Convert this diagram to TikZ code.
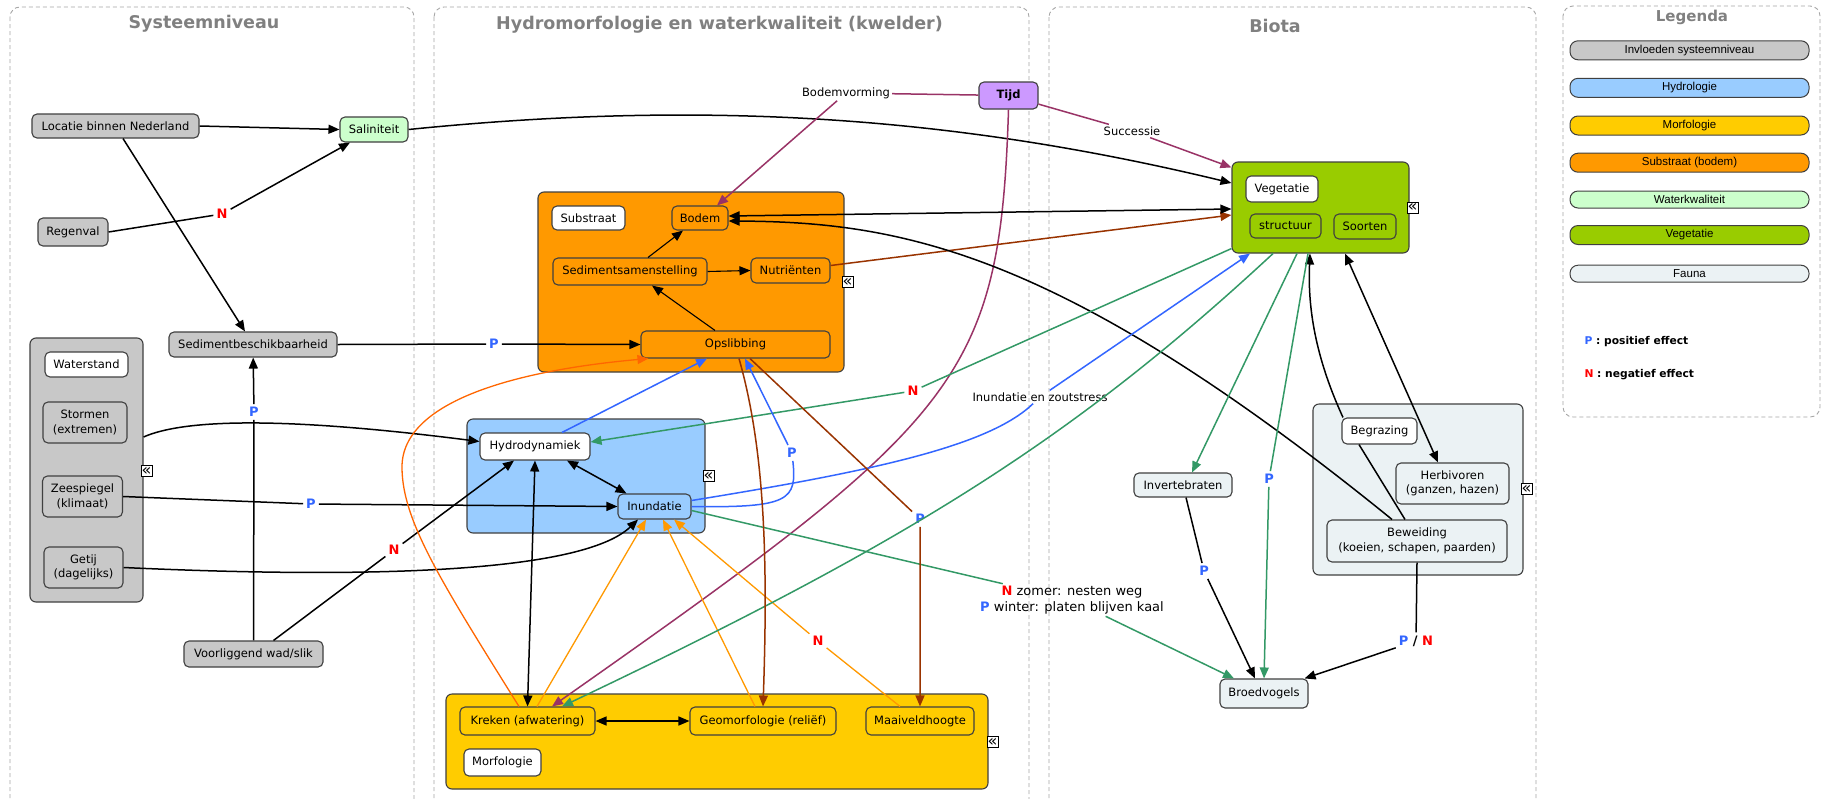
\documentclass[tikz,border=0pt]{standalone}
\usepackage{fontspec}
\setmainfont{DejaVu Sans}
\newfontfamily\arialf{Liberation Sans}
\usetikzlibrary{arrows.meta}
\definecolor{sysgray}{HTML}{C8C8C8}
\definecolor{hydroblue}{HTML}{99CCFF}
\definecolor{morfyel}{HTML}{FFCC00}
\definecolor{subor}{HTML}{FF9900}
\definecolor{wqgreen}{HTML}{CCFFCC}
\definecolor{veggreen}{HTML}{99CC00}
\definecolor{faunac}{HTML}{EBF2F4}
\definecolor{tijdc}{HTML}{CC99FF}
\definecolor{panelc}{HTML}{A6A6A6}
\definecolor{titlec}{HTML}{808080}
\definecolor{pblue}{HTML}{3366FF}
\definecolor{nred}{HTML}{FF0000}
\definecolor{lpurple}{HTML}{993366}
\definecolor{lbrown}{HTML}{993300}
\definecolor{lgreen}{HTML}{339966}
\definecolor{lorange}{HTML}{FF9900}
\definecolor{ldorange}{HTML}{FF6600}
\definecolor{bordc}{HTML}{404040}
\newcommand\nfont{\fontsize{11.5}{14.5}\selectfont}
\newcommand\tfont{\fontsize{17.5}{20}\selectfont\bfseries}
\newcommand\pnfont{\fontsize{13}{15}\selectfont\bfseries}
\newcommand\Pl{{\color{pblue}P}}
\newcommand\Nl{{\color{nred}N}}
\tikzset{
  box/.style={draw=bordc, line width=1.1pt, rounded corners=5pt, inner sep=2pt, align=center, font=\nfont, text=black},
  sz/.style 2 args={minimum width=#1pt, minimum height=#2pt},
  grp/.style={draw=bordc, line width=1.1pt, rounded corners=6pt, inner sep=0pt},
  panel/.style={draw=panelc, dash pattern=on 4pt off 3pt, line width=0.9pt, rounded corners=10pt},
  ptitle/.style={font=\tfont, text=titlec},
  cicon/.style={draw=black, fill=white, line width=0.8pt, inner sep=0pt, minimum width=11pt, minimum height=11pt, font=\fontsize{16}{16}\selectfont},
  lab/.style={font=\nfont, inner sep=2pt},
  pl/.style={font=\pnfont, text=pblue, inner sep=3pt},
  nl/.style={font=\pnfont, text=nred, inner sep=3pt},
  ed/.style={line width=1.5pt, -{Triangle[length=11pt,width=9pt]}},
  ded/.style={line width=1.5pt, {Triangle[length=11pt,width=9pt]}-{Triangle[length=11pt,width=9pt]}},
  legbar/.style={draw=bordc, line width=1pt, rounded corners=8pt, minimum width=239pt, minimum height=19pt, inner sep=0pt, font=\arialf\fontsize{11.5}{13}\selectfont},
}
\begin{document}
\begin{tikzpicture}[x=1pt,y=-1pt]
\useasboundingbox (0,0) rectangle (1827,798);
\fill[white] (0,0) rectangle (1827,798);
% panels
\draw[panel] (10,7) rectangle (414,830);
\draw[panel] (434,7) rectangle (1029,830);
\draw[panel] (1049,7) rectangle (1536,830);
\draw[panel] (1563,6) rectangle (1820,417);
\node[ptitle] (t1) at (204,24) {Systeemniveau};
\node[ptitle] (t2) at (719.5,25) {Hydromorfologie en waterkwaliteit (kwelder)};
\node[ptitle] (t3) at (1275,26) {Biota};
\node[ptitle, font=\fontsize{15}{17}\selectfont\bfseries] (t4) at (1692,17) {Legenda};
% legend
\node[legbar, fill=sysgray] (leg1) at (1689.5,50.3) {Invloeden systeemniveau};
\node[legbar, fill=hydroblue] (leg2) at (1689.5,87.8) {Hydrologie};
\node[legbar, fill=morfyel] (leg3) at (1689.5,125.5) {Morfologie};
\node[legbar, fill=subor] (leg4) at (1689.5,162.7) {Substraat (bodem)};
\node[legbar, fill=wqgreen, minimum height=17pt] (leg5) at (1689.5,199.5) {Waterkwaliteit};
\node[legbar, fill=veggreen] (leg6) at (1689.5,235) {Vegetatie};
\node[legbar, fill=faunac, minimum height=17pt] (leg7) at (1689.5,273.7) {Fauna};
\node[anchor=west, font=\fontsize{10.7}{13}\selectfont\bfseries] (lp) at (1581,342) {\Pl\ : positief effect};
\node[anchor=west, font=\fontsize{10.7}{13}\selectfont\bfseries] (ln) at (1581,375) {\Nl\ : negatief effect};
% systeemniveau
\node[box, fill=sysgray, sz={167}{24}] (loc) at (115.5,126) {Locatie binnen Nederland};
\node[box, fill=wqgreen, sz={68}{25}] (sal) at (374,129.5) {Saliniteit};
\node[box, fill=sysgray, sz={70}{28}] (reg) at (73,232) {Regenval};
\node[box, fill=sysgray, sz={168}{25}] (sed) at (253,344.5) {Sedimentbeschikbaarheid};
\node[box, fill=sysgray, sz={139}{26}] (voor) at (253.5,654) {Voorliggend wad/slik};
\node[grp, fill=sysgray, sz={113}{264}] (wsG) at (86.5,470) {};
\node[box, fill=white, sz={83}{25}] (wst) at (86.5,364.5) {Waterstand};
\node[box, fill=sysgray, sz={84}{41}] (storm) at (85,422.5) {Stormen\\(extremen)};
\node[box, fill=sysgray, sz={80}{41}] (zee) at (82.5,496.5) {Zeespiegel\\(klimaat)};
\node[box, fill=sysgray, sz={79}{41}] (getij) at (83.5,567.5) {Getij\\(dagelijks)};
\node[cicon] (ic1) at (146.5,471) {«};
% substraat
\node[grp, fill=subor, sz={306}{180}] (subG) at (691,282) {};
\node[box, fill=white, sz={73}{24}] (subh) at (588.5,218) {Substraat};
\node[box, fill=subor, sz={56}{24}] (bodem) at (700,218) {Bodem};
\node[box, fill=subor, sz={154}{27}] (sedsam) at (630,271.5) {Sedimentsamenstelling};
\node[box, fill=subor, sz={79}{25}] (nutr) at (790.5,270.5) {Nutriënten};
\node[box, fill=subor, sz={189}{27}] (opsl) at (735.5,344.5) {Opslibbing};
\node[cicon] (ic2) at (847.5,282) {«};
% hydrologie
\node[grp, fill=hydroblue, sz={238}{114}] (hydG) at (586,476) {};
\node[box, fill=white, sz={110}{27}] (hydro) at (535,446.5) {Hydrodynamiek};
\node[box, fill=hydroblue, sz={73}{25}] (inund) at (654.5,506.5) {Inundatie};
\node[cicon] (ic3) at (708.5,476) {«};
% morfologie
\node[grp, fill=morfyel, sz={542}{95}] (morG) at (717,741.5) {};
\node[box, fill=morfyel, sz={135}{28}] (kreken) at (527.5,721) {Kreken (afwatering)};
\node[box, fill=morfyel, sz={146}{28}] (geo) at (763,721) {Geomorfologie (reliëf)};
\node[box, fill=morfyel, sz={108}{28}] (maai) at (920,721) {Maaiveldhoogte};
\node[box, fill=white, sz={77}{27}] (morfh) at (502.5,762.5) {Morfologie};
\node[cicon] (ic4) at (992.5,742) {«};
% tijd
\node[box, fill=tijdc, sz={59}{27}, font=\nfont\bfseries] (tijd) at (1008.5,95.5) {Tijd};
% vegetatie
\node[grp, fill=veggreen, sz={177}{91}] (vegG) at (1320.5,207.5) {};
\node[box, fill=white, sz={72}{26}] (vegh) at (1282,189) {Vegetatie};
\node[box, fill=veggreen, sz={71}{24}] (struct) at (1285.5,226) {structuur};
\node[box, fill=veggreen, sz={62}{25}] (soort) at (1365,226.5) {Soorten};
\node[cicon] (ic5) at (1412.5,207.5) {«};
% fauna
\node[grp, fill=faunac, sz={210}{171}] (fauG) at (1418,489.5) {};
\node[box, fill=white, sz={75}{26}] (begr) at (1379.5,431) {Begrazing};
\node[box, fill=faunac, sz={113}{41}] (herb) at (1452.5,483.5) {Herbivoren\\(ganzen, hazen)};
\node[box, fill=faunac, sz={180}{42}] (bew) at (1417,541) {Beweiding\\(koeien, schapen, paarden)};
\node[cicon] (ic6) at (1526.5,489) {«};
\node[box, fill=faunac, sz={98}{24}] (invert) at (1183,485) {Invertebraten};
\node[box, fill=faunac, sz={88}{29}] (broed) at (1264,693.5) {Broedvogels};
% labels
\node[lab] (bv) at (846,93) {Bodemvorming};
\node[lab] (succ) at (1132,131) {Successie};
\node[lab] (izs) at (1040,397) {Inundatie en zoutstress};
\node[lab, font=\fontsize{13}{16}\selectfont, align=center] (zomer) at (1072,600) {{\bfseries\Nl} zomer: nesten weg\\{\bfseries\Pl} winter: platen blijven kaal};
\node[nl] (n1) at (222,214) {N};
\node[pl] (p1) at (254,412) {P};
\node[pl] (p2) at (311,504) {P};
\node[nl] (n2) at (394,550) {N};
\node[pl] (p3) at (494,344) {P};
\node[nl] (n3) at (818,641) {N};
\node[pl] (p6) at (792,453) {P};
\node[pl] (p7) at (920,519) {P};
\node[nl] (n4) at (913,391) {N};
\node[pl] (p4) at (1269,479) {P};
\node[pl] (p5) at (1204,571) {P};
\node[font=\pnfont, inner sep=3pt] (pn) at (1416,641) {\Pl\ / \Nl};
% edges
\draw[ed] (loc.east) -- (sal.west);
\draw[ed] ([xshift=7.5]loc.south) -- ([xshift=-8]sed.north);
\draw[ed] (reg.east) -- (n1) -- ([xshift=-24]sal.south);
\draw[ed] (sal.east) .. controls (700,100) and (950,115) .. ([yshift=24.5]vegG.west);
\draw[ed, lpurple] (tijd) -- (bv) -- ([xshift=17]bodem.north);
\draw[ed, lpurple] (tijd) -- (succ) -- ([yshift=-6]vegG.north west);
\draw[ed, lpurple] (tijd.south) .. controls (1000,380) and (960,420) .. ([xshift=24.5]kreken.north);
\draw[ed] (voor) -- (p1) -- (sed);
\draw[ed] ([xshift=20]voor.north) -- (n2) -- ([xshift=-21]hydro.south);
\draw[ed] ([xshift=16,yshift=-14.5]storm.east) .. controls (200,412) and (350,425) .. ([yshift=5]hydro.west);
\draw[ed] (zee.east) -- (p2) -- (inund.west);
\draw[ed] (getij.east) .. controls (350,578) and (580,575) .. ([xshift=-16.5]inund.south);
\draw[ded] (kreken.north) -- (hydro.south);
\draw[ded] ([xshift=32]hydro.south) -- ([xshift=-28]inund.north);
\draw[ed, pblue] ([xshift=27]hydro.north) -- ([xshift=-28.5]opsl.south);
\draw[ed, ldorange, line width=1.3pt] ([xshift=-8.5]kreken.north) .. controls (440,580) and (402,520) .. (402,467) .. controls (402,400) and (520,370) .. ([xshift=8]opsl.south west);
\draw[ed, lorange, line width=1.3pt] ([xshift=9.5]kreken.north) -- ([xshift=-8.5]inund.south);
\draw[ed, lorange, line width=1.3pt] ([xshift=-8]geo.north) -- ([xshift=8.5]inund.south);
\draw[ed, lorange, line width=1.3pt] ([xshift=-20]maai.north) -- (n3) -- ([xshift=19.5]inund.south);
\draw[ded] (kreken.east) -- (geo.west);
\draw[ed] (sed.east) -- (p3) -- (opsl.west);
\draw[ed, line width=1.1pt] ([xshift=-20.5]opsl.north) -- ([xshift=22]sedsam.south);
\draw[ed, line width=1.1pt] ([xshift=18]sedsam.north) -- ([xshift=-17]bodem.south);
\draw[ed, line width=1.1pt] (sedsam.east) -- (nutr.west);
\draw[ed, lbrown] ([yshift=5]nutr.east) -- ([yshift=-7.5]vegG.west);
\draw[ded] ([yshift=2]bodem.east) -- ([yshift=-1.5]vegG.west);
\draw[ed] ([xshift=-25]bew.north) .. controls (1060,250) and (900,222) .. ([yshift=-3]bodem.east);
\draw[ed] ([xshift=-36.5]begr.north) .. controls (1312,350) and (1308,300) .. ([xshift=-10.5]vegG.south);
\draw[line width=1.5pt] ([xshift=-12]bew.north) -- ([xshift=-20.5]begr.south);
\draw[ded] ([xshift=24.5]vegG.south) -- ([xshift=-14.5]herb.north);
\draw[ed, lgreen] ([xshift=-23.5]vegG.south) -- ([xshift=9]invert.north);
\draw[ed, lgreen] ([xshift=-12.5]vegG.south) -- (p4) -- (broed.north);
\draw[ed] ([xshift=3]invert.south) -- (p5) -- ([xshift=-9]broed.north);
\draw[ed] (bew.south) -- (pn) -- ([xshift=-4]broed.north east);
\draw[ed, lgreen] ([yshift=-4]inund.east) -- (zomer) -- ([xshift=-30]broed.north);
\draw[ed, lgreen] ([yshift=5]vegG.south west) -- (n4) -- ([yshift=4.5]hydro.east);
\draw[ed, lgreen] ([xshift=-47.5]vegG.south) .. controls (1073,439) and (912,540) .. ([xshift=34.5]kreken.north);
\draw[ed, pblue] (inund.east) .. controls (790,508) and (797,500) .. (p6) -- ([xshift=9.5]opsl.south);
\draw[ed, pblue] ([yshift=6]inund.east) .. controls (880,470) and (990,445) .. (izs) -- ([xshift=-70.5]vegG.south);
\draw[ed, lbrown] ([xshift=3.5]opsl.south) .. controls (765,450) and (768,560) .. (geo.north);
\draw[ed, lbrown] ([xshift=14.5]opsl.south) -- (p7) -- (maai.north);
\end{tikzpicture}
\end{document}
